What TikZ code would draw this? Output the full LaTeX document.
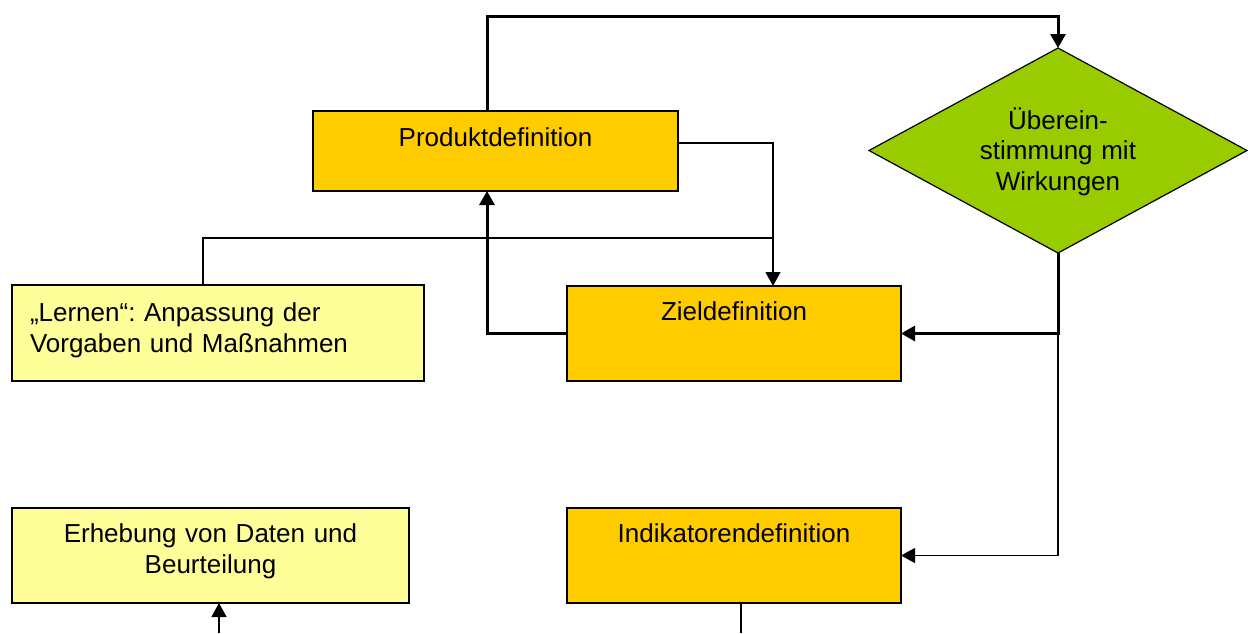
\documentclass[tikz,border=0pt]{standalone}
\usepackage{fontspec}
\setmainfont{Liberation Sans}
\usetikzlibrary{shapes.geometric,arrows.meta,calc}
\definecolor{ambox}{HTML}{FFCC00}
\definecolor{palebox}{HTML}{FFFF99}
\definecolor{decgreen}{HTML}{99CC00}
\frenchspacing
\begin{document}
\begin{tikzpicture}[x=1pt,y=-1pt,
  txt/.style={inner sep=0pt, outer sep=0pt, font=\fontsize{26}{31}\selectfont},
  boxbase/.style={draw=black, line width=1.2pt, inner sep=0pt, outer sep=0pt},
  procbox/.style={boxbase, fill=ambox},
  notebox/.style={boxbase, fill=palebox},
  decbox/.style={boxbase, diamond, fill=decgreen},
  heavy/.style={line width=3pt},
  light/.style={line width=1.2pt},
  tip/.style={-{Triangle[length=14pt,width=15pt]}}
]
\useasboundingbox (0,0) rectangle (1248,633);

% boxes
\node[procbox, minimum width=365pt, minimum height=80pt] (pd) at (495.5,151) {};
\node[procbox, minimum width=334pt, minimum height=95pt] (zd) at (734,333.5) {};
\node[procbox, minimum width=334pt, minimum height=95pt] (id) at (734,555.5) {};
\node[notebox, minimum width=412pt, minimum height=96pt] (le) at (218,333) {};
\node[notebox, minimum width=397pt, minimum height=95pt] (er) at (210.5,555.5) {};
\node[decbox, minimum width=378pt, minimum height=205pt] (ue) at (1058,150.5) {};

% labels
\node[txt, anchor=base] (pdt) at (495.5,146.7) {Produktdefinition};
\node[txt, anchor=base] (zdt) at (734,320.7) {Zieldefinition};
\node[txt, anchor=base] (idt) at (734,542.7) {Indikatorendefinition};
\node[txt, anchor=base, text width=397pt, align=center] (ert) at (210.5,542.7)
  {Erhebung von Daten und\\Beurteilung};
\node[txt, anchor=base west, text width=385pt, align=left] (let) at (30,321)
  {„Lernen“: Anpassung der\\Vorgaben und Maßnahmen};
\node[txt, anchor=base, text width=300pt, align=center, font=\fontsize{26}{30.5}\selectfont] (uet) at (1058,129)
  {Überein-\\stimmung mit\\Wirkungen};

% routing points
\coordinate (loop) at (487,16);
\coordinate (join) at (773,238);
\coordinate (lx) at (203,238);
\coordinate (eb) at (219,633);
\coordinate (ib) at (741,633);

% heavy connectors
\draw[heavy, tip] (pd.north -| loop) -- (loop) -| (ue.north);
\draw[heavy, tip] (ue.south) |- (zd.east);
\draw[heavy, tip] (zd.west) -| (pd.south -| loop);

% light connectors
\draw[light, tip] (ue.south |- zd.east) |- (id.east);
\draw[light, tip] ([yshift=8pt]pd.east) -| (zd.north -| join);
\draw[light] (le.north -| lx) -- (lx) -- (join);
\draw[light, tip] (eb) -- (er.south -| eb);
\draw[light] (id.south -| ib) -- (ib);
\end{tikzpicture}
\end{document}
